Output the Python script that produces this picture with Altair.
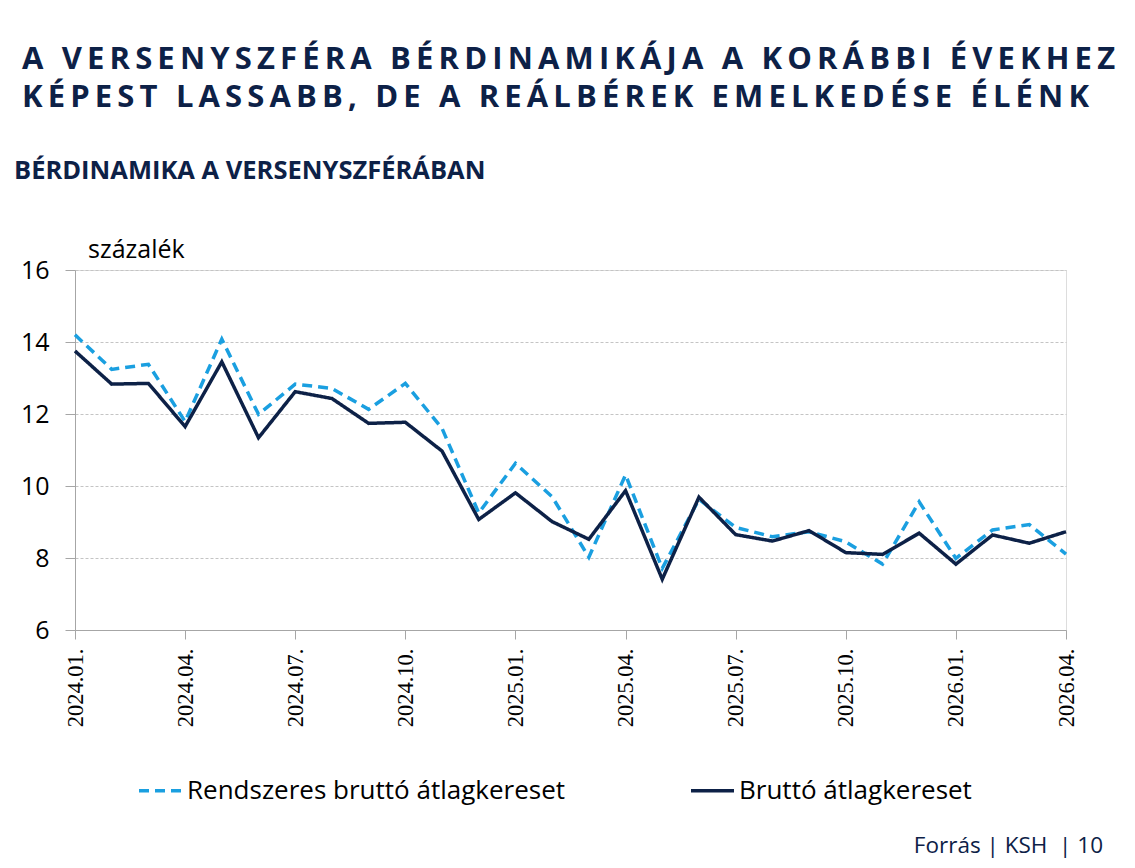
import altair as alt
import pandas as pd

# Monthly year-on-year wage growth in the competitive sector, per cent
months = [f"{y}.{m:02d}." for y in (2024, 2025, 2026) for m in range(1, 13)][:28]
rendszeres = [14.2, 13.24, 13.38, 11.79, 14.08, 11.99, 12.83, 12.71, 12.13, 12.85,
              11.6, 9.25, 10.63, 9.70, 8.02, 10.31, 7.71, 9.63, 8.85, 8.59,
              8.73, 8.45, 7.83, 9.56, 7.99, 8.78, 8.93, 8.11]
brutto = [13.75, 12.83, 12.85, 11.65, 13.45, 11.34, 12.62, 12.43, 11.74, 11.77,
          10.97, 9.07, 9.81, 9.01, 8.52, 9.87, 7.41, 9.69, 8.65, 8.47,
          8.76, 8.15, 8.10, 8.69, 7.83, 8.64, 8.41, 8.73]
series_names = ["Rendszeres bruttó átlagkereset", "Bruttó átlagkereset"]
y_ticks = [6, 8, 10, 12, 14, 16]
x_ticks = months[::3]

title_lines = ["A VERSENYSZFÉRA BÉRDINAMIKÁJA A KORÁBBI ÉVEKHEZ",
               "KÉPEST LASSABB, DE A REÁLBÉREK EMELKEDÉSE ÉLÉNK"]
subtitle = "BÉRDINAMIKA A VERSENYSZFÉRÁBAN"
unit_label = "százalék"
footer = "Forrás | KSH\u00a0 | 10"

NAVY = "#0d2147"
BLUE = "#1a9fe0"
W, H = 991, 360


def spaced(s):
    # widen the tracking of the headline with thin spaces
    return "\u2009".join(s)


df = pd.DataFrame({
    "honap": months * 2,
    "ertek": rendszeres + brutto,
    "sorozat": [series_names[0]] * len(months) + [series_names[1]] * len(months),
})

x_enc = alt.X("honap:O", sort=months, scale=alt.Scale(type="point", padding=0),
              axis=alt.Axis(values=x_ticks, title=None, labelAngle=270,
                            labelAlign="right", labelBaseline="middle",
                            labelFont="Liberation Sans Narrow", labelFontSize=22.5,
                            labelColor="black", labelPadding=9, tickSize=9,
                            tickColor="#a6a6a6", domainColor="#a6a6a6",
                            grid=False))
y_enc = alt.Y("ertek:Q", scale=alt.Scale(domain=[6, 16], nice=False, zero=False),
              axis=alt.Axis(values=y_ticks, title=None, labelFont="Open Sans",
                            labelFontSize=25, labelColor="black", labelPadding=16,
                            tickSize=10, tickColor="#a6a6a6", domainColor="#a6a6a6",
                            grid=True, gridColor="#c4c4c4", gridDash=[3, 2],
                            gridWidth=1))
color_enc = alt.Color("sorozat:N", scale=alt.Scale(domain=series_names, range=[BLUE, NAVY]),
                      legend=alt.Legend(title=None, orient="none", legendX=62, legendY=497,
                                        direction="horizontal", symbolType="stroke",
                                        symbolSize=1849, symbolStrokeWidth=3.5,
                                        labelFont="Open Sans", labelFontSize=26,
                                        labelColor="black", labelOffset=3, labelLimit=600,
                                        columnPadding=118))
dash_enc = alt.StrokeDash("sorozat:N", scale=alt.Scale(domain=series_names,
                                                       range=[[10, 6], [1, 0]]))

base = alt.Chart(df)
dashed = base.transform_filter(alt.datum.sorozat == series_names[0]).mark_line(
    strokeWidth=3.5).encode(x=x_enc, y=y_enc, color=color_enc, strokeDash=dash_enc)
solid = base.transform_filter(alt.datum.sorozat == series_names[1]).mark_line(
    strokeWidth=3.5).encode(x=x_enc, y=y_enc, color=color_enc, strokeDash=dash_enc)


def label(text, x, y, size, weight="normal", color=NAVY, align="left", font="Open Sans"):
    return alt.Chart(pd.DataFrame({"t": [text]})).mark_text(
        font=font, fontSize=size, fontWeight=weight, color=color, align=align,
        baseline="alphabetic").encode(x=alt.value(x), y=alt.value(y), text="t:N")


texts = [
    label(spaced(title_lines[0]), -53, -201, 31, "bold"),
    label(spaced(title_lines[1]), -53, -163, 31, "bold"),
    label(subtitle, -61, -91, 25.5, "bold"),
    label(unit_label, 13, -12, 25, color="black"),
    label(footer, 1028, 583, 22.5, align="right"),
]

chart = alt.layer(dashed, solid, *texts).properties(
    width=W, height=H,
    padding={"left": 75, "top": 270, "right": 69, "bottom": 238},
    autosize=alt.AutoSizeParams(type="none"),
).configure_view(stroke=None).configure(background="white")

chart.save("out.html", embed_options={"renderer": "svg", "actions": False})
